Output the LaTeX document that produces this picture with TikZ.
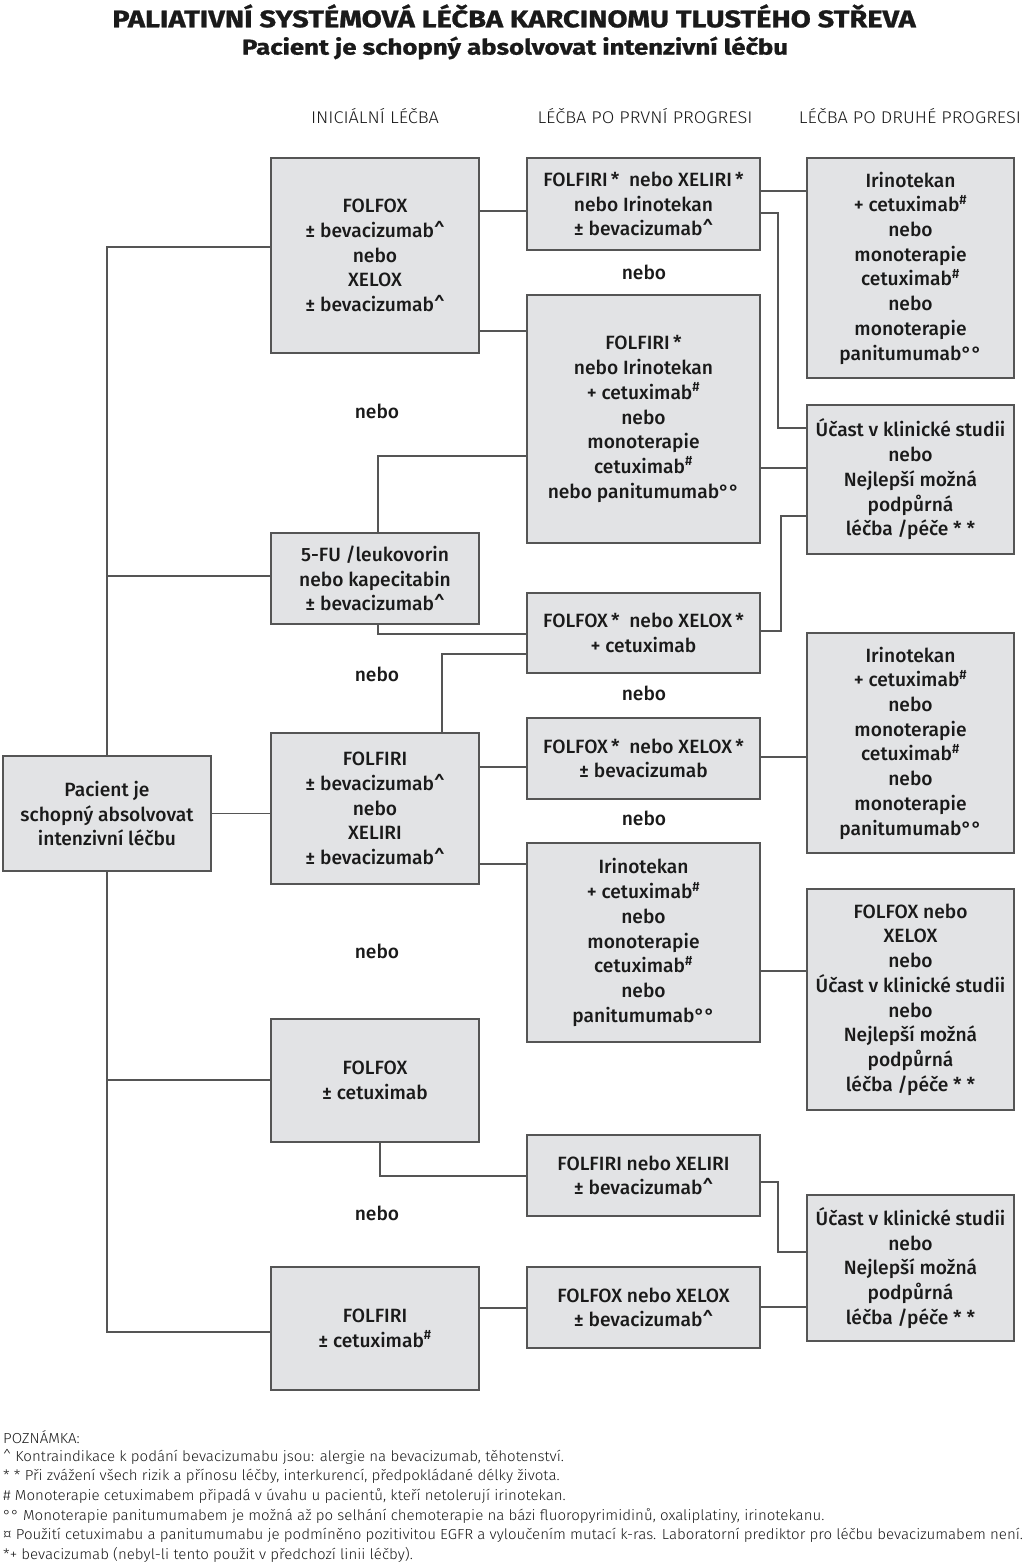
\documentclass[tikz,border=0pt]{standalone}
\usepackage{fontspec}
\setmainfont{Fira Sans}
\newfontfamily\boxfont{Fira Sans Medium}[FakeStretch=1.0]
\newfontfamily\titlefont{Fira Sans}[FakeStretch=1.21,FakeBold=1]
\newfontfamily\subfont{Fira Sans}[FakeStretch=1.2,FakeBold=1]
\newfontfamily\lightfont{Fira Sans Light}[FakeStretch=1.07]
\newfontfamily\notefont{Fira Sans Light}[FakeStretch=1.04]
\definecolor{boxgray}{HTML}{E2E3E5}
\definecolor{linegray}{HTML}{555555}
\definecolor{textblack}{HTML}{1A1A1A}
\newcommand\hsh{\textsuperscript{\#}}
\newcommand\crt{\textasciicircum}
\begin{document}
\begin{tikzpicture}[x=1pt,y=-1pt,
  box/.style={draw=linegray, line width=1.2pt, fill=boxgray, inner sep=0pt, align=center,
    font=\boxfont\fontsize{19.2}{24.7}\selectfont, text=textblack},
  conn/.style={draw=linegray, line width=1.2pt},
  lbl/.style={font=\boxfont\fontsize{19.2}{24.7}\selectfont, text=textblack, inner sep=0pt},
  hdr/.style={font=\lightfont\fontsize{17}{20}\selectfont, text=textblack, inner sep=0pt},
  note/.style={font=\notefont\fontsize{14.5}{17}\selectfont, text=textblack, inner sep=0pt, anchor=west},
]
\useasboundingbox[fill=white] (0,0) rectangle (1024,1565);

% titles
\node[font=\titlefont\bfseries\fontsize{24}{28}\selectfont, text=textblack, inner sep=0pt] (title) at (514,16) {PALIATIVNÍ SYSTÉMOVÁ LÉČBA KARCINOMU TLUSTÉHO STŘEVA};
\node[font=\subfont\bfseries\fontsize{21.5}{25}\selectfont, text=textblack, inner sep=0pt] (subtitle) at (515,48) {Pacient je schopný absolvovat intenzivní léčbu};
\node[hdr] (h1) at (375,116) {INICIÁLNÍ LÉČBA};
\node[hdr] (h2) at (645,116) {LÉČBA PO PRVNÍ PROGRESI};
\node[hdr] (h3) at (910,116) {LÉČBA PO DRUHÉ PROGRESI};

% patient
\node[box, minimum width=208pt, minimum height=115pt] (pat) at (107,813.5) {Pacient je\\schopný absolvovat\\intenzivní léčbu};

% column 1
\node[box, minimum width=208pt, minimum height=195pt] (b1) at (375,255.5) {FOLFOX\\± bevacizumab\crt\\nebo\\XELOX\\± bevacizumab\crt};
\node[box, minimum width=208pt, minimum height=91pt] (b2) at (375,578.5) {5-FU /leukovorin\\nebo kapecitabin\\± bevacizumab\crt};
\node[box, minimum width=208pt, minimum height=151pt] (b3) at (375,808.5) {FOLFIRI\\± bevacizumab\crt\\nebo\\XELIRI\\± bevacizumab\crt};
\node[box, minimum width=208pt, minimum height=123pt] (b4) at (375,1080.5) {FOLFOX\\± cetuximab};
\node[box, minimum width=208pt, minimum height=123pt] (b5) at (375,1328.5) {FOLFIRI\\± cetuximab\hsh};
\node[lbl] (n1) at (377,411) {nebo};
\node[lbl] (n2) at (377,674) {nebo};
\node[lbl] (n3) at (377,951) {nebo};
\node[lbl] (n4) at (377,1213) {nebo};

% column 2
\node[box, minimum width=233pt, minimum height=92pt] (c1) at (643.5,204) {FOLFIRI\,*\ \ nebo XELIRI\,*\\nebo Irinotekan\\± bevacizumab\crt};
\node[box, minimum width=233pt, minimum height=248pt] (c2) at (643.5,419) {FOLFIRI\,*\\nebo Irinotekan\\+ cetuximab\hsh\\nebo\\monoterapie\\cetuximab\hsh\\nebo panitumumab°°};
\node[box, minimum width=233pt, minimum height=80pt] (c3) at (643.5,633) {FOLFOX\,*\ \ nebo XELOX\,*\\+ cetuximab};
\node[box, minimum width=233pt, minimum height=81pt] (c4) at (643.5,758.5) {FOLFOX\,*\ \ nebo XELOX\,*\\± bevacizumab};
\node[box, minimum width=233pt, minimum height=199pt] (c5) at (643.5,942.5) {Irinotekan\\+ cetuximab\hsh\\nebo\\monoterapie\\cetuximab\hsh\\nebo\\panitumumab°°};
\node[box, minimum width=233pt, minimum height=81pt] (c6) at (643.5,1175.5) {FOLFIRI nebo XELIRI\\± bevacizumab\crt};
\node[box, minimum width=233pt, minimum height=81pt] (c7) at (643.5,1307.5) {FOLFOX nebo XELOX\\± bevacizumab\crt};
\node[lbl] (m1) at (644,272) {nebo};
\node[lbl] (m2) at (644,693) {nebo};
\node[lbl] (m3) at (644,818) {nebo};

% column 3
\node[box, minimum width=207pt, minimum height=220pt] (d1) at (910.5,268) {Irinotekan\\+ cetuximab\hsh\\nebo\\monoterapie\\cetuximab\hsh\\nebo\\monoterapie\\panitumumab°°};
\node[box, minimum width=207pt, minimum height=149pt] (d2) at (910.5,479.5) {Účast v klinické studii\\nebo\\Nejlepší možná\\podpůrná\\léčba /péče * *};
\node[box, minimum width=207pt, minimum height=220pt] (d3) at (910.5,743) {Irinotekan\\+ cetuximab\hsh\\nebo\\monoterapie\\cetuximab\hsh\\nebo\\monoterapie\\panitumumab°°};
\node[box, minimum width=207pt, minimum height=221pt] (d4) at (910.5,999.5) {FOLFOX nebo\\XELOX\\nebo\\Účast v klinické studii\\nebo\\Nejlepší možná\\podpůrná\\léčba /péče * *};
\node[box, minimum width=207pt, minimum height=146pt] (d5) at (910.5,1268) {Účast v klinické studii\\nebo\\Nejlepší možná\\podpůrná\\léčba /péče * *};

% trunk
\draw[conn] (b1.west |- 0,247) -| (pat.north);
\draw[conn] (b2.west |- 0,576) -- (pat.north |- 0,576);
\draw[conn] (pat.east) -- (pat.east -| b3.west);
\draw[conn] (pat.south) |- (b5.west |- 0,1332);
\draw[conn] (b4.west |- 0,1080) -- (pat.south |- 0,1080);

% column 1 -> column 2
\draw[conn] (b1.east |- 0,211) -- (c1.west |- 0,211);
\draw[conn] (b1.east |- 0,331) -- (c2.west |- 0,331);
\draw[conn] ([xshift=3pt]b2.north) |- (c2.west |- 0,456);
\draw[conn] ([xshift=3pt]b2.south) |- (c3.west |- 0,634);
\draw[conn] (b3.north -| 442,0) |- (c3.west |- 0,654);
\draw[conn] (b3.east |- 0,767) -- (c4.west |- 0,767);
\draw[conn] (b3.east |- 0,864) -- (c5.west |- 0,864);
\draw[conn] ([xshift=5pt]b4.south) |- (c6.west |- 0,1176);
\draw[conn] (b5.east |- 0,1308) -- (c7.west |- 0,1308);

% column 2 -> column 3
\draw[conn] (c1.east |- 0,191) -- (d1.west |- 0,191);
\draw[conn] (c1.east |- 0,213) -- (778,213) -- (778,428) -- (d2.west |- 0,428);
\draw[conn] (c2.east |- 0,468) -- (d2.west |- 0,468);
\draw[conn] (c3.east |- 0,631) -- (781,631) -- (781,516) -- (d2.west |- 0,516);
\draw[conn] (c4.east |- 0,757) -- (d3.west |- 0,757);
\draw[conn] (c5.east |- 0,971) -- (d4.west |- 0,971);
\draw[conn] (c6.east |- 0,1182) -- (778,1182) -- (778,1252) -- (d5.west |- 0,1252);
\draw[conn] (c7.east |- 0,1307) -- (d5.west |- 0,1307);

% notes
\node[note] (f0) at (3,1437) {POZNÁMKA:};
\node[note] (f1) at (3,1456.7) {\crt\ Kontraindikace k podání bevacizumabu jsou: alergie na bevacizumab, těhotenství.};
\node[note] (f2) at (3,1476.4) {* * Při zvážení všech rizik a přínosu léčby, interkurencí, předpokládané délky života.};
\node[note] (f3) at (3,1496.1) {\# Monoterapie cetuximabem připadá v úvahu u pacientů, kteří netolerují irinotekan.};
\node[note] (f4) at (3,1515.8) {°° Monoterapie panitumumabem je možná až po selhání chemoterapie na bázi fluoropyrimidinů, oxaliplatiny, irinotekanu.};
\node[note] (f5) at (3,1535.5) {¤ Použití cetuximabu a panitumumabu je podmíněno pozitivitou EGFR a vyloučením mutací k-ras. Laboratorní prediktor pro léčbu bevacizumabem není.};
\node[note] (f6) at (3,1555.2) {*+ bevacizumab (nebyl-li tento použit v předchozí linii léčby).};
\end{tikzpicture}
\end{document}
